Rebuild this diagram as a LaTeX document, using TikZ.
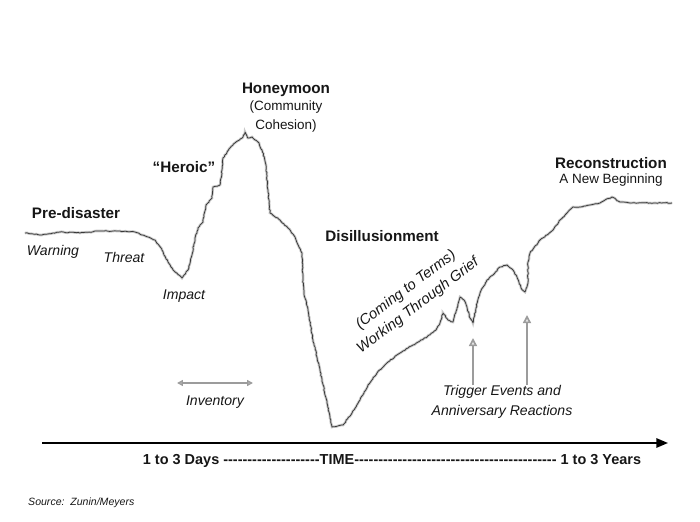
\documentclass[tikz,border=0pt]{standalone}
\usepackage{xcolor}
\usepackage{fontspec}
\setmainfont{Liberation Sans}[Ligatures=TeXOff]
\usepackage{tikz}
\usetikzlibrary{positioning,arrows.meta,decorations.pathmorphing}
\definecolor{ink}{HTML}{161616}
\definecolor{pencil}{HTML}{9C9C9C}

\begin{document}
\begin{tikzpicture}[x=0.03cm, y=-0.03cm,
  phase/.style={font=\bfseries\fontsize{13}{15}\selectfont, text=ink, inner sep=0pt},
  sub/.style={font=\fontsize{11.5}{16}\selectfont, text=ink, inner sep=0pt, align=center},
  note/.style={font=\itshape\fontsize{12}{17}\selectfont, text=ink, inner sep=0pt, align=center},
  curve/.style={draw=ink!85, line width=0.65pt, line join=round, line cap=round,
                decorate, decoration={random steps, segment length=1.6pt, amplitude=0.4pt},
                preaction={draw=pencil!55, line width=2.2pt}},
  cue/.style={-{Triangle[open, length=7pt, width=7pt, fill=pencil!25]}, draw=pencil, line width=1.4pt},
  span/.style={{Triangle[open, length=5pt, width=5pt, fill=pencil!25]}-{Triangle[open, length=5pt, width=5pt, fill=pencil!25]},
               draw=pencil, line width=1.2pt},
  axis/.style={-{Triangle[length=10pt, width=8pt]}, line width=1.6pt, draw=black}
]
\useasboundingbox (0,0) rectangle (700,521);

% the curve of reactions
\draw[curve] (25,233) -- (40,235) -- (60,232) -- (80,233) -- (100,231) -- (120,231) -- (135,232)
  -- (148,237) -- (155,240) -- (162,250) -- (168,262) -- (175,272) -- (182,278) -- (188,270)
  -- (192,255) -- (195,238) -- (198,228) -- (203,222) -- (206,205) -- (212,198) -- (213,187)
  -- (220,185) -- (222,170) -- (223,158) -- (230,148) -- (236,142) -- (243,137) -- (245,132)
  -- (248,138) -- (252,137) -- (258,142) -- (262,150) -- (266,165) -- (268,190) -- (270,213)
  -- (280,220) -- (288,228) -- (295,237) -- (302,253) -- (303,280) -- (304,293) -- (308,310)
  -- (313,340) -- (320,370) -- (327,403) -- (332,427) -- (343,425) -- (352,413) -- (360,400)
  -- (368,385) -- (377,373) -- (388,362) -- (400,353) -- (413,345) -- (427,337) -- (436,330)
  -- (440,323) -- (443,313) -- (448,320) -- (453,322) -- (457,308) -- (460,297) -- (464,300)
  -- (467,307) -- (470,318) -- (473,323) -- (476,308) -- (480,293) -- (487,280) -- (493,275)
  -- (500,267) -- (507,265) -- (512,269) -- (517,277) -- (521,288) -- (525,292) -- (528,283)
  -- (528,262) -- (530,253) -- (540,240) -- (553,230) -- (560,220) -- (567,213) -- (573,207)
  -- (580,207) -- (590,205) -- (600,203) -- (605,200) -- (612,197) -- (620,202) -- (630,203)
  -- (650,203) -- (672,203);

% phases
\node[phase] (pre) at (76,213) {Pre-disaster};
\node[phase] (hero) at (184,167) {“Heroic”};
\node[phase] (honey) at (286,90) {Honeymoon};
\node[sub, below=3pt of honey] (cohes) {(Community\\Cohesion)};
\node[phase] (disil) at (382,236) {Disillusionment};
\node[phase] (recon) at (611,163) {Reconstruction};
\node[sub, below=4pt of recon] (newbeg) {A New Beginning};

% notes along the curve
\node[note] (warn) at (53,252) {Warning};
\node[note] (threat) at (124,257) {Threat};
\node[note] (impact) at (184,296) {Impact};
\node[note, font=\itshape\fontsize{12.5}{17}\selectfont, rotate=37] (grief) at (412,298)
  {(Coming to Terms)\\Working Through Grief};
\node[note] (inv) at (215,402) {Inventory};
\node[note] (trig) at (502,402) {Trigger Events and\\Anniversary Reactions};

% gray arrows
\coordinate (invl) at (177,383);
\coordinate (invr) at (253,383);
\draw[span] (invl) -- (invr);
\coordinate (tip1) at (473,338);
\coordinate (tip2) at (527,315);
\draw[cue] (trig.north -| tip1) -- (tip1);
\draw[cue] (trig.north -| tip2) -- (tip2);

% time axis
\coordinate (t0) at (42,443);
\coordinate (t1) at (668,443);
\draw[axis] (t0) -- (t1);
\node[font=\bfseries\fontsize{12.35}{14}\selectfont, text=ink, inner sep=0pt] (time) at (392,461)
  {1 to 3 Days --------------------TIME------------------------------------------ 1 to 3 Years};

\node[anchor=west, font=\itshape\fontsize{9}{11}\selectfont, text=ink, inner sep=0pt] (src) at (28,503)
  {Source:\ \ Zunin/Meyers};

\end{tikzpicture}
\end{document}
